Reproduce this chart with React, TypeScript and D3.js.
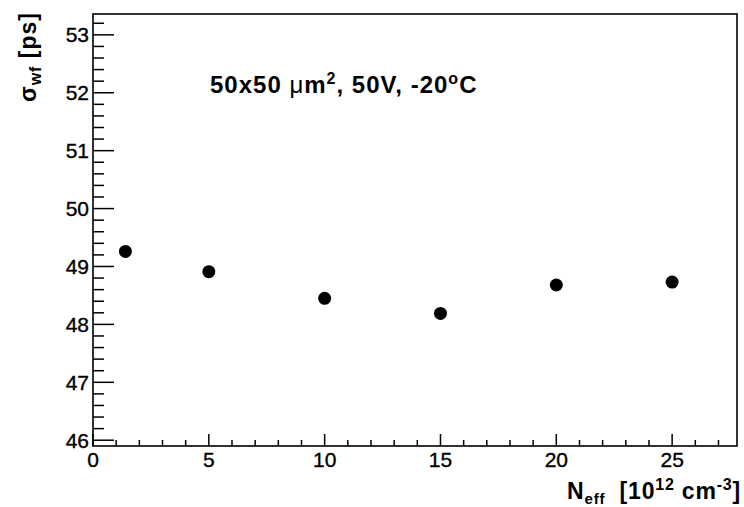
import React, { useEffect, useRef } from "react";
import * as d3 from "d3";

// measured points
const nEff = [1.4, 5, 10, 15, 20, 25];
const sigmaWf = [49.26, 48.91, 48.45, 48.19, 48.68, 48.73];

const xMajor = [0, 5, 10, 15, 20, 25];
const yMajor = [46, 47, 48, 49, 50, 51, 52, 53];

const App = () => {
  const svgRef = useRef<SVGSVGElement>(null);

  useEffect(() => {
    const svg = d3.select(svgRef.current);
    svg.selectAll("*").remove();

    const width = 744;
    const height = 507;
    const frame = { left: 93, right: 737, top: 14, bottom: 446 };
    const font = "'Liberation Sans', Arial, sans-serif";

    svg.attr("width", width).attr("height", height);

    const x = d3.scaleLinear().domain([0, 27.8]).range([frame.left, frame.right]);
    const y = d3.scaleLinear().domain([45.9, 53.36]).range([frame.bottom, frame.top]);

    // frame
    svg
      .append("rect")
      .attr("x", frame.left)
      .attr("y", frame.top)
      .attr("width", frame.right - frame.left)
      .attr("height", frame.bottom - frame.top)
      .attr("fill", "none")
      .attr("stroke", "#000")
      .attr("stroke-width", 1.6);

    // y ticks (inside, pointing right)
    const yMinor = d3.range(46, 53.3, 0.2).filter((v) => Math.abs(v - Math.round(v)) > 0.01);
    const gy = svg.append("g").attr("stroke", "#000").attr("stroke-width", 1.5);
    gy.selectAll("line.maj")
      .data(yMajor)
      .join("line")
      .attr("class", "maj")
      .attr("x1", frame.left)
      .attr("x2", frame.left + 21)
      .attr("y1", (d) => y(d))
      .attr("y2", (d) => y(d));
    gy.selectAll("line.min")
      .data(yMinor)
      .join("line")
      .attr("class", "min")
      .attr("x1", frame.left)
      .attr("x2", frame.left + 11)
      .attr("y1", (d) => y(d))
      .attr("y2", (d) => y(d));

    svg
      .append("g")
      .selectAll("text")
      .data(yMajor)
      .join("text")
      .attr("x", frame.left - 4)
      .attr("y", (d) => y(d))
      .attr("dy", "0.36em")
      .attr("text-anchor", "end")
      .attr("font-family", font)
      .attr("font-size", 21)
      .attr("stroke", "#000")
      .attr("stroke-width", 0.35)
      .text((d) => d);

    // x ticks (inside, pointing up)
    const xMinor = d3.range(1, 28, 1).filter((v) => v % 5 !== 0);
    const gx = svg.append("g").attr("stroke", "#000").attr("stroke-width", 1.5);
    gx.selectAll("line.maj")
      .data(xMajor)
      .join("line")
      .attr("class", "maj")
      .attr("x1", (d) => x(d))
      .attr("x2", (d) => x(d))
      .attr("y1", frame.bottom)
      .attr("y2", frame.bottom - 12);
    gx.selectAll("line.min")
      .data(xMinor)
      .join("line")
      .attr("class", "min")
      .attr("x1", (d) => x(d))
      .attr("x2", (d) => x(d))
      .attr("y1", frame.bottom)
      .attr("y2", frame.bottom - 6);

    svg
      .append("g")
      .selectAll("text")
      .data(xMajor)
      .join("text")
      .attr("x", (d) => x(d))
      .attr("y", 467)
      .attr("text-anchor", "middle")
      .attr("font-family", font)
      .attr("font-size", 21)
      .attr("stroke", "#000")
      .attr("stroke-width", 0.35)
      .text((d) => d);

    // points
    svg
      .append("g")
      .selectAll("circle")
      .data(nEff.map((n, i) => [n, sigmaWf[i]]))
      .join("circle")
      .attr("cx", (d) => x(d[0]))
      .attr("cy", (d) => y(d[1]))
      .attr("r", 6.5)
      .attr("fill", "#000");

    // x axis title
    const xt = svg
      .append("text")
      .attr("x", 741)
      .attr("y", 499)
      .attr("text-anchor", "end")
      .attr("font-family", font)
      .attr("font-weight", "bold")
      .attr("letter-spacing", 0.8)
      .attr("font-size", 23);
    xt.append("tspan").text("N");
    xt.append("tspan").attr("font-size", 15).attr("dy", 5).text("eff");
    xt.append("tspan").attr("dy", -5).text("\u00a0\u00a0[10");
    xt.append("tspan").attr("font-size", 16).attr("dy", -9).text("12");
    xt.append("tspan").attr("dy", 9).text(" cm");
    xt.append("tspan").attr("font-size", 16).attr("dy", -9).text("-3");
    xt.append("tspan").attr("dy", 9).text("]");

    // y axis title
    const yt = svg
      .append("text")
      .attr("transform", "translate(36,12) rotate(-90)")
      .attr("text-anchor", "end")
      .attr("font-family", font)
      .attr("font-weight", "bold")
      .attr("letter-spacing", 1)
      .attr("font-size", 23);
    yt.append("tspan").text("\u03c3");
    yt.append("tspan").attr("font-size", 16).attr("dy", 5).text("wf");
    yt.append("tspan").attr("dy", -5).text("\u00a0[ps]");

    // annotation
    const an = svg
      .append("text")
      .attr("x", 210)
      .attr("y", 93)
      .attr("font-family", font)
      .attr("font-size", 24)
      .attr("letter-spacing", 1)
      .attr("font-weight", "bold");
    an.append("tspan").text("50x50\u00a0");
    an.append("tspan").attr("font-weight", "normal").text("\u03bc");
    an.append("tspan").text("m");
    an.append("tspan").attr("font-size", 16).attr("dy", -9).text("2");
    an.append("tspan").attr("dy", 9).text(", 50V, -20");
    an.append("tspan").attr("font-size", 16).attr("dy", -9).text("o");
    an.append("tspan").attr("dy", 9).text("C");
  }, []);

  return (
    <div style={{ position: "absolute", left: 0, top: 0, background: "#fff" }}>
      <svg ref={svgRef} style={{ display: "block" }} />
    </div>
  );
};

export default App;
